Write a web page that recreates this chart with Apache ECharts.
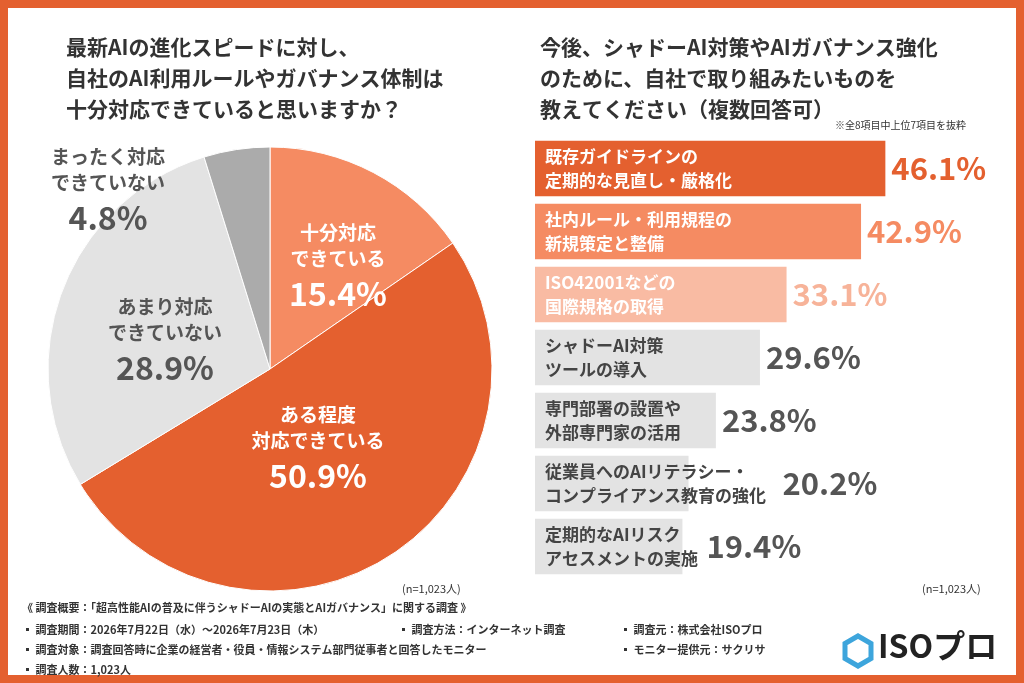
<!DOCTYPE html>
<html><head><meta charset="utf-8">
<script src="https://cdn.jsdelivr.net/npm/echarts@6/dist/echarts.min.js"></script>
<style>html,body{margin:0;padding:0;background:#fff}#c{width:1024px;height:683px}</style>
</head><body><div id="c"></div>
<script>
var F = '"Noto Sans CJK JP", sans-serif';
// pie
var pieNames = ['十分対応\nできている', 'ある程度\n対応できている', 'あまり対応\nできていない', 'まったく対応\nできていない'];
var pieValues = [15.4, 50.9, 28.9, 4.8];
var pieColors = ['#F58B62', '#E4602F', '#E3E3E3', '#ABABAB'];
var pieTextColors = ['#fff', '#fff', '#555', '#555'];
// bars
var barNames = ['既存ガイドラインの\n定期的な見直し・厳格化', '社内ルール・利用規程の\n新規策定と整備', 'ISO42001などの\n国際規格の取得', 'シャドーAI対策\nツールの導入', '専門部署の設置や\n外部専門家の活用', '従業員へのAIリテラシー・\nコンプライアンス教育の強化', '定期的なAIリスク\nアセスメントの実施'];
var barValues = [46.1, 42.9, 33.1, 29.6, 23.8, 20.2, 19.4];
var barColors = ['#E4602F', '#F58B62', '#F9BBA3', '#E3E3E3', '#E3E3E3', '#E3E3E3', '#E3E3E3'];
var barTextColors = ['#fff', '#fff', '#fff', '#444', '#444', '#444', '#444'];
var valueColors = ['#E4602F', '#F58B62', '#F7B399', '#555', '#555', '#555', '#555'];
// value labels pushed past overflowing text
var valueOffsets = [0, 0, 0, 0, 0, 88, 18];

var chart = echarts.init(document.getElementById('c'));
var pieData = pieValues.map(function (v, i) {
  var d = {
    value: v, name: pieNames[i], itemStyle: {color: pieColors[i]},
    label: {color: pieTextColors[i], rich: {n: {color: pieTextColors[i]}, v: {color: pieTextColors[i]}}}
  };
  if (i === 3) {
    d.label.position = 'outside';
    d.labelLine = {show: false};
  }
  return d;
});
var pieLabelPos = [[338, 268], [318, 450], [165, 342], [108, 192]];
chart.setOption({
  backgroundColor: '#fff',
  animation: false,
  graphic: [
    {type: 'rect', shape: {x: 4, y: 4, width: 1016, height: 675}, style: {fill: 'none', stroke: '#E4602F', lineWidth: 8}},
    {type: 'text', left: 66, top: 32, style: {text: '最新AIの進化スピードに対し、\n自社のAI利用ルールやガバナンス体制は\n十分対応できていると思いますか？', font: 'bold 21px ' + F, fill: '#333', lineHeight: 31}},
    {type: 'text', left: 540, top: 32, style: {text: '今後、シャドーAI対策やAIガバナンス強化\nのために、自社で取り組みたいものを\n教えてください（複数回答可）', font: 'bold 21px ' + F, fill: '#333', lineHeight: 31}},
    {type: 'text', right: 58, top: 120, style: {text: '※全8項目中上位7項目を抜粋', font: '10px ' + F, fill: '#333'}},
    {type: 'text', left: 402, top: 583, style: {text: '(n=1,023人)', font: '11px ' + F, fill: '#333'}},
    {type: 'text', left: 922, top: 583, style: {text: '(n=1,023人)', font: '11px ' + F, fill: '#333'}},
    {type: 'text', left: 22, top: 602, style: {text: '《 調査概要：「超高性能AIの普及に伴うシャドーAIの実態とAIガバナンス」に関する調査 》', font: 'bold 11px ' + F, fill: '#333'}},
    {type: 'text', left: 22, top: 624, style: {text: '▪ 調査期間：2026年7月22日（水）〜2026年7月23日（木）', font: 'bold 11px ' + F, fill: '#333'}},
    {type: 'text', left: 398, top: 624, style: {text: '▪ 調査方法：インターネット調査', font: 'bold 11px ' + F, fill: '#333'}},
    {type: 'text', left: 620, top: 624, style: {text: '▪ 調査元：株式会社ISOプロ', font: 'bold 11px ' + F, fill: '#333'}},
    {type: 'text', left: 22, top: 644, style: {text: '▪ 調査対象：調査回答時に企業の経営者・役員・情報システム部門従事者と回答したモニター', font: 'bold 11px ' + F, fill: '#333'}},
    {type: 'text', left: 620, top: 644, style: {text: '▪ モニター提供元：サクリサ', font: 'bold 11px ' + F, fill: '#333'}},
    {type: 'text', left: 22, top: 664, style: {text: '▪ 調査人数：1,023人', font: 'bold 11px ' + F, fill: '#333'}},
    {type: 'polygon', shape: {points: [[858, 636], [871, 643.5], [871, 658.5], [858, 666], [845, 658.5], [845, 643.5]]}, style: {fill: 'none', stroke: '#3DA5DC', lineWidth: 5}},
    {type: 'text', left: 878, top: 630, style: {text: 'ISOプロ', font: 'bold 32px ' + F, fill: '#222'}}
  ],
  grid: {left: 535, top: 137, width: 380, height: 441},
  xAxis: {type: 'value', min: 0, max: 50, show: false},
  yAxis: {type: 'category', inverse: true, data: barNames, show: false},
  series: [
    {
      type: 'pie', center: [270, 369], radius: [0, 222], startAngle: 90, clockwise: true,
      data: pieData,
      itemStyle: {borderColor: '#fff', borderWidth: 1},
      labelLayout: function (p) {
        var pos = pieLabelPos[p.dataIndex];
        return {x: pos[0], y: pos[1], align: 'center', verticalAlign: 'middle'};
      },
      label: {
        position: 'inside', formatter: '{n|{b}}\n{v|{c}%}',
        rich: {
          n: {fontFamily: F, fontSize: 19, fontWeight: 'bold', lineHeight: 26, align: 'center'},
          v: {fontFamily: F, fontSize: 32, fontWeight: 'bold', lineHeight: 44, align: 'center'}
        }
      }
    },
    {
      type: 'bar', barCategoryGap: '12%',
      data: barValues.map(function (v, i) {
        return {value: v, itemStyle: {color: barColors[i]}, label: {color: barTextColors[i]}};
      }),
      label: {
        show: true, position: 'insideLeft', distance: 10,
        formatter: function (p) { return barNames[p.dataIndex]; },
        fontFamily: F, fontSize: 17, fontWeight: 'bold', lineHeight: 24
      },
      z: 2
    },
    {
      type: 'bar', barGap: '-100%', barCategoryGap: '12%',
      data: barValues.map(function (v, i) {
        return {value: v, label: {color: valueColors[i], offset: [valueOffsets[i], 0]}};
      }),
      itemStyle: {color: 'transparent'},
      label: {
        show: true, position: 'right', distance: 6,
        formatter: '{c}%', fontFamily: F, fontSize: 31, fontWeight: 'bold'
      },
      z: 3
    }
  ]
});
</script></body></html>
